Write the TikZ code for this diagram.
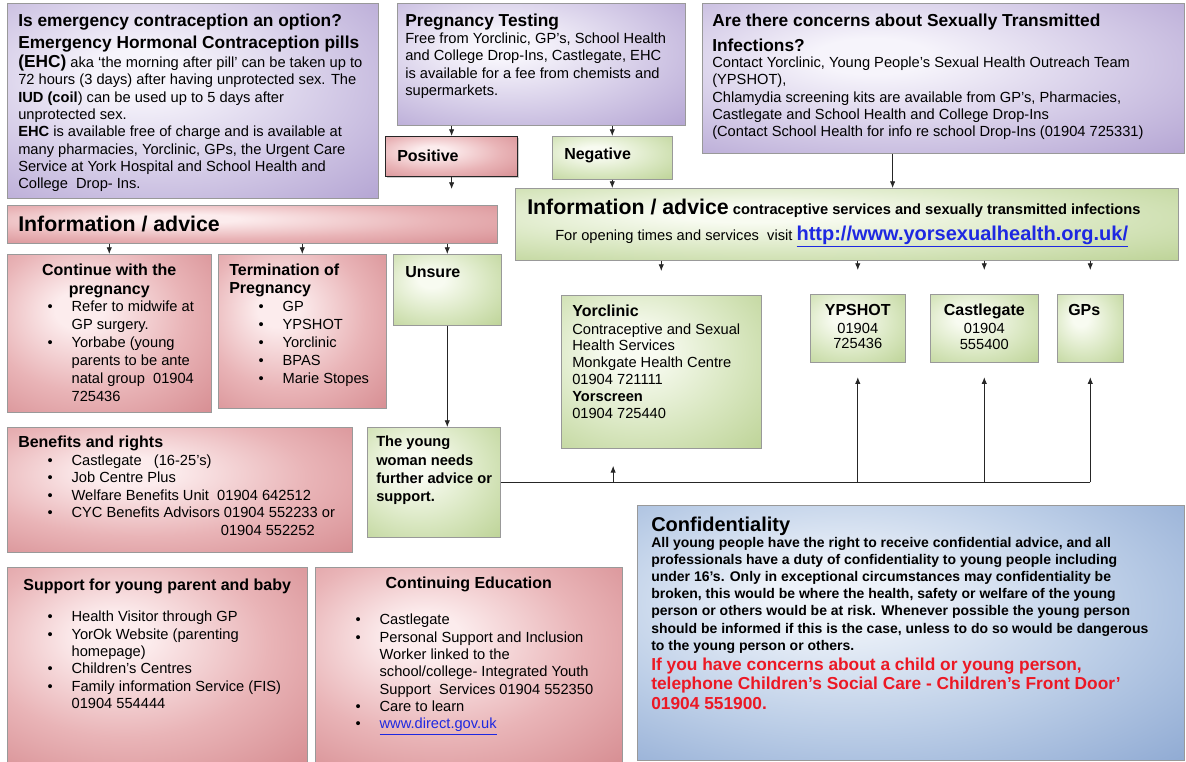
\documentclass[tikz,border=0pt]{standalone}
\usepackage{fontspec}
\setmainfont{Liberation Sans}
\usetikzlibrary{arrows.meta,calc,shadows}

\definecolor{purpdark}{RGB}{172,155,206}
\definecolor{purpmid}{RGB}{212,203,231}
\definecolor{purplight}{RGB}{246,244,251}
\definecolor{reddark}{RGB}{210,132,137}
\definecolor{redmid}{RGB}{233,180,183}
\definecolor{redlight}{RGB}{252,236,237}
\definecolor{grndark}{RGB}{182,206,140}
\definecolor{grnmid}{RGB}{217,231,193}
\definecolor{grnlight}{RGB}{248,251,241}
\definecolor{bludark}{RGB}{132,161,206}
\definecolor{blumid}{RGB}{188,206,231}
\definecolor{blulight}{RGB}{237,242,249}
\definecolor{linkblue}{RGB}{30,40,225}
\definecolor{alertred}{RGB}{236,24,36}

\pgfdeclareradialshading{purpshade}{\pgfpoint{-8bp}{8bp}}{color(0bp)=(purplight); color(6bp)=(purplight); color(24bp)=(purpmid); color(45bp)=(purpdark); color(72bp)=(purpdark)}
\pgfdeclareradialshading{redshade}{\pgfpoint{-8bp}{8bp}}{color(0bp)=(redlight); color(6bp)=(redlight); color(24bp)=(redmid); color(45bp)=(reddark); color(72bp)=(reddark)}
\pgfdeclareradialshading{grnshade}{\pgfpoint{-8bp}{8bp}}{color(0bp)=(grnlight); color(6bp)=(grnlight); color(24bp)=(grnmid); color(45bp)=(grndark); color(72bp)=(grndark)}
\pgfdeclareradialshading{blushade}{\pgfpoint{-8bp}{8bp}}{color(0bp)=(blulight); color(6bp)=(blulight); color(24bp)=(blumid); color(45bp)=(bludark); color(72bp)=(bludark)}

\newcommand{\ttl}{\fontsize{13}{15}\selectfont\bfseries}
\newcommand{\hdf}{\fontsize{12}{14}\selectfont\bfseries}
\newcommand{\bul}{\makebox[40pt][l]{\hspace{22pt}\textbullet}}
\newcommand{\bulc}{\hspace*{40pt}}

\begin{document}
\begin{tikzpicture}[x=0.75pt, y=-0.75pt,
  bx/.style 2 args={minimum width=#1*0.75pt, minimum height=#2*0.75pt, anchor=north west, inner sep=0pt},
  box/.style={draw=black!40, line width=0.4pt, drop shadow={shadow xshift=0.8pt, shadow yshift=-0.8pt, opacity=0.4}},
  purplebox/.style={box, shade, shading=purpshade},
  redbox/.style={box, shade, shading=redshade},
  greenbox/.style={box, shade, shading=grnshade},
  bluebox/.style={box, shade, shading=blushade},
  txt/.style={anchor=north west, align=left, inner sep=0pt, font=\fontsize{11}{13}\selectfont},
  link/.style={draw=black!85, line width=0.6pt},
  arr/.style={link, -{Latex[length=5pt, width=4pt]}}
]
\useasboundingbox (0,0) rectangle (1186,762);

% top row
\node[purplebox, bx={371}{195}] (ehc) at (7,3) {};
\node[txt] (ehc-t) at ([shift={(11,11)}]ehc.north west) {%
  {\ttl Is emergency contraception an option?}\\[3.4pt]
  {\ttl Emergency Hormonal Contraception pills}\\[1.2pt]
  {\ttl (EHC)} aka `the morning after pill' can be taken up to\\
  72 hours (3 days) after having unprotected sex. The\\
  \textbf{IUD (coil}) can be used up to 5 days after\\
  unprotected sex.\\
  \textbf{EHC} is available free of charge and is available at\\
  many pharmacies, Yorclinic, GPs, the Urgent Care\\
  Service at York Hospital and School Health and\\
  College\ \ Drop- Ins.};

\node[purplebox, bx={288}{122}] (preg) at (397,3) {};
\node[txt] (preg-t) at ([shift={(8,11)}]preg.north west) {%
  {\ttl Pregnancy Testing}\\[-0.6pt]
  Free from Yorclinic, GP's, School Health\\
  and College Drop-Ins, Castlegate, EHC\\
  is available for a fee from chemists and\\
  supermarkets.};

\node[purplebox, bx={482}{150}] (sti) at (702,3) {};
\node[txt] (sti-t) at ([shift={(10,11)}]sti.north west) {%
  {\ttl Are there concerns about Sexually Transmitted}\\[5.8pt]
  {\ttl Infections?}\\[-1.4pt]
  Contact Yorclinic, Young People's Sexual Health Outreach Team\\
  (YPSHOT),\\
  Chlamydia screening kits are available from GP's, Pharmacies,\\
  Castlegate and School Health and College Drop-Ins\\
  (Contact School Health for info re school Drop-Ins (01904 725331)};

% test result
\node[redbox, bx={132}{40}, draw=black!85, line width=0.9pt] (pos) at (385,136) {};
\node[txt, anchor=west, font=\hdf] (pos-t) at ([shift={(12,-1)}]pos.west) {Positive};

\node[greenbox, bx={120}{43}] (neg) at (552,136) {};
\node[txt, anchor=west, font=\hdf] (neg-t) at ([shift={(12,-2)}]neg.west) {Negative};

% information bars
\node[redbox, bx={490}{38}] (rinfo) at (7,205) {};
\node[txt, anchor=west, font=\fontsize{16}{18}\selectfont\bfseries] (rinfo-t) at ([shift={(11,0)}]rinfo.west) {Information / advice};

\node[greenbox, bx={663}{72}] (ginfo) at (515,188) {};
\node[txt] (ginfo-t) at ([shift={(12,11)}]ginfo.north west) {%
  {\fontsize{16}{18}\selectfont\bfseries Information / advice} \textbf{contraceptive services and sexually transmitted infections}\\[5pt]
  \hspace*{21pt}For opening times and services\ \ visit {\fontsize{15}{17}\selectfont\bfseries\color{linkblue}\underline{http://www.yorsexualhealth.org.uk/}}};

% pregnancy options
\node[redbox, bx={204}{158}] (cont) at (7,254) {};
\node[txt, anchor=north, align=center, font=\fontsize{12}{14.3}\selectfont\bfseries] (cont-h) at ([shift={(0,10)}]cont.north) {Continue with the\\pregnancy};
\node[txt, font=\fontsize{11}{13.4}\selectfont] (cont-l) at ([shift={(11,47)}]cont.north west) {%
  \bul Refer to midwife at\\
  \bulc GP surgery.\\
  \bul Yorbabe (young\\
  \bulc parents to be ante\\
  \bulc natal group\ \ 01904\\
  \bulc 725436};

\node[redbox, bx={168}{154}] (term) at (218,254) {};
\node[txt, font=\fontsize{11}{13.5}\selectfont] (term-t) at ([shift={(11,10)}]term.north west) {%
  {\hdf Termination of}\\
  {\hdf Pregnancy}\\
  \bul GP\\
  \bul YPSHOT\\
  \bul Yorclinic\\
  \bul BPAS\\
  \bul Marie Stopes};

\node[greenbox, bx={108}{71}] (unsure) at (393,254) {};
\node[txt, font=\hdf] (unsure-t) at ([shift={(12,12)}]unsure.north west) {Unsure};

% services
\node[greenbox, bx={200}{153}] (yorc) at (561,295) {};
\node[txt, font=\fontsize{11}{12.6}\selectfont] (yorc-t) at ([shift={(11,10)}]yorc.north west) {%
  {\hdf Yorclinic}\\[0.4pt]
  Contraceptive and Sexual\\
  Health Services\\
  Monkgate Health Centre\\
  01904 721111\\
  \textbf{Yorscreen}\\
  01904 725440};

\node[greenbox, bx={95}{68}] (ypshot) at (810,294) {};
\node[txt, anchor=north, align=center, font=\fontsize{11}{11.5}\selectfont] (ypshot-t) at ([shift={(0,10)}]ypshot.north) {{\hdf YPSHOT}\\[2pt]01904\\725436};

\node[greenbox, bx={108}{68}] (castle) at (930,294) {};
\node[txt, anchor=north, align=center, font=\fontsize{11}{11.5}\selectfont] (castle-t) at ([shift={(0,10)}]castle.north) {{\hdf Castlegate}\\[2pt]01904\\555400};

\node[greenbox, bx={66}{68}] (gps) at (1057,294) {};
\node[txt, font=\hdf] (gps-t) at ([shift={(11,10)}]gps.north west) {GPs};

% lower left
\node[redbox, bx={345}{125}] (ben) at (7,427) {};
\node[txt, font=\fontsize{11}{13.1}\selectfont] (ben-t) at ([shift={(11,9)}]ben.north west) {%
  {\hdf Benefits and rights}\\
  \bul Castlegate\ \ \ (16-25's)\\
  \bul Job Centre Plus\\
  \bul Welfare Benefits Unit\ \ 01904 642512\\
  \bul CYC Benefits Advisors 01904 552233 or\\
  \hspace*{152pt}01904 552252};

\node[greenbox, bx={133}{110}] (woman) at (367,427) {};
\node[txt, font=\fontsize{11}{13.75}\selectfont\bfseries] (woman-t) at ([shift={(9,9)}]woman.north west) {%
  The young\\
  woman needs\\
  further advice or\\
  support.};

\node[redbox, bx={300}{195}] (supp) at (7,567) {};
\node[txt, anchor=north, align=center, font=\hdf] (supp-h) at ([shift={(0,12)}]supp.north) {Support for young parent and baby};
\node[txt] (supp-l) at ([shift={(11,44)}]supp.north west) {%
  \bul Health Visitor through GP\\
  \bul YorOk Website (parenting\\
  \bulc homepage)\\
  \bul Children's Centres\\
  \bul Family information Service (FIS)\\
  \bulc 01904 554444};

\node[redbox, bx={307}{195}] (cedu) at (315,567) {};
\node[txt, anchor=north, align=center, font=\hdf] (cedu-h) at ([shift={(0,10)}]cedu.north) {Continuing Education};
\node[txt] (cedu-l) at ([shift={(11,47)}]cedu.north west) {%
  \bul Castlegate\\
  \bul Personal Support and Inclusion\\
  \bulc Worker linked to the\\
  \bulc school/college- Integrated Youth\\
  \bulc Support\ \ Services 01904 552350\\
  \bul Care to learn\\
  \bul {\color{linkblue}\underline{www.direct.gov.uk}}};

% confidentiality
\node[bluebox, bx={547}{255}] (conf) at (637,505) {};
\node[txt, font=\fontsize{10.5}{12.9}\selectfont\bfseries] (conf-t) at ([shift={(14,12)}]conf.north west) {%
  {\fontsize{15}{17}\selectfont Confidentiality}\\[-1.4pt]
  All young people have the right to receive confidential advice, and all\\
  professionals have a duty of confidentiality to young people including\\
  under 16's. Only in exceptional circumstances may confidentiality be\\
  broken, this would be where the health, safety or welfare of the young\\
  person or others would be at risk. Whenever possible the young person\\
  should be informed if this is the case, unless to do so would be dangerous\\
  to the young person or others.\\[2.1pt]
  {\fontsize{13}{15}\selectfont\color{alertred}If you have concerns about a child or young person,}\\[1.7pt]
  {\fontsize{13}{15}\selectfont\color{alertred}telephone Children's Social Care - Children's Front Door'}\\[1.7pt]
  {\fontsize{13}{15}\selectfont\color{alertred}01904 551900.}};

% connectors
\coordinate (sti-out) at ($(sti.south west)!.395!(sti.south east)$);
\coordinate (yorc-in) at ($(yorc.south west)!.26!(yorc.south east)$);

\draw[arr] (preg.south -| pos.north) -- (pos.north);
\draw[arr] (preg.south -| neg.north) -- (neg.north);
\draw[arr, shorten >=12pt] (pos.south) -- (pos.south |- rinfo.north);
\draw[arr] (neg.south) -- (neg.south |- ginfo.north);
\draw[arr] (sti-out) -- (sti-out |- ginfo.north);

\foreach \b in {cont,term,unsure}{
  \draw[arr] (rinfo.south -| \b.north) -- (\b.north);
}
\foreach \b in {yorc,ypshot,castle,gps}{
  \draw[arr, shorten >=18pt] (ginfo.south -| \b.north) -- (\b.north);
}

\draw[arr] (unsure.south) -- (unsure.south |- woman.north);
\draw[link] (woman.east) -- (woman.east -| gps.south);
\draw[arr, shorten >=13pt] (woman.east -| yorc-in) -- (yorc-in);
\foreach \b in {ypshot,castle,gps}{
  \draw[arr, shorten >=11pt] (woman.east -| \b.south) -- (\b.south);
}
\end{tikzpicture}
\end{document}
